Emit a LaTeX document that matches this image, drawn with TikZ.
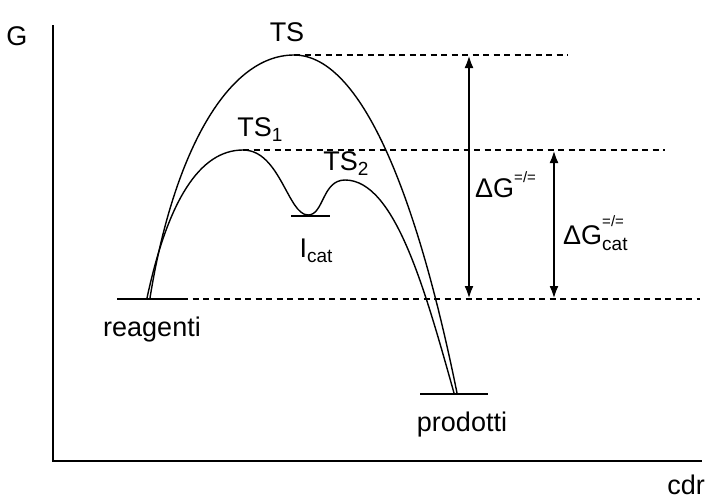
\documentclass[tikz,border=0pt]{standalone}
\usepackage{fontspec}
\setmainfont{Liberation Sans}
\usetikzlibrary{arrows.meta}
\begin{document}
\begin{tikzpicture}[x=1pt,y=-1pt,
  lbl/.style={font=\fontsize{27}{31}\selectfont, inner sep=0pt},
  axis/.style={line width=1.8pt},
  level/.style={line width=1.4pt},
  guide/.style={line width=1.2pt, dash pattern=on 6pt off 4.5pt},
  curve/.style={line width=1.4pt},
  dim/.style={line width=2.6pt, {Latex[length=13pt,width=9pt]}-{Latex[length=13pt,width=9pt]}}]
\useasboundingbox (0,0) rectangle (707,501);
% axes
\coordinate (orig) at (53,461);
\coordinate (ytop) at (53,25);
\coordinate (xend) at (702,461);
\draw[axis] (ytop) -- (orig) -- (xend);
\node[lbl] (G) at (17,36) {G};
\node[lbl] (cdr) at (686,485) {cdr};
% levels
\coordinate (rA) at (117,299);
\coordinate (rB) at (182,299);
\draw[level] (rA) -- (rB);
\coordinate (pA) at (420,394);
\coordinate (pB) at (488,394);
\draw[level] (pA) -- (pB);
\coordinate (iA) at (291,216);
\coordinate (iB) at (330,216);
\draw[level] (iA) -- (iB);
\node[lbl] (reag) at (152,330) {reagenti};
\node[lbl] (prod) at (462,425) {prodotti};
% dashed guides
\coordinate (g1B) at (700,299);
\draw[guide] (rB) -- (g1B);
\coordinate (tsP) at (294,55);
\coordinate (g2B) at (568,55);
\draw[guide] (tsP) -- (g2B);
\coordinate (ts1P) at (243,150);
\coordinate (g3B) at (665,150);
\draw[guide] (ts1P) -- (g3B);
% uncatalysed curve
\coordinate (s1) at (150,298);
\coordinate (e1) at (457,393);
\draw[curve] (s1) .. controls (172,160) and (225,55) .. (tsP)
  .. controls (365,55) and (420,210) .. (e1);
% catalysed curve
\coordinate (s2) at (147,298);
\coordinate (imin) at (308,215);
\coordinate (ts2P) at (345,180);
\coordinate (e2) at (454,393);
\draw[curve] (s2) .. controls (168,200) and (200,150) .. (ts1P)
  .. controls (280,150) and (288,215) .. (imin)
  .. controls (324,215) and (322,180) .. (ts2P)
  .. controls (395,180) and (425,290) .. (e2);
% labels
\node[lbl] (ts) at (287,32) {TS};
\node[lbl] (ts1) at (260,130) {TS\raisebox{-0.35ex}{\fontsize{19}{21}\selectfont 1}};
\node[lbl] (ts2) at (346,164) {TS\raisebox{-0.35ex}{\fontsize{19}{21}\selectfont 2}};
\node[lbl] (icat) at (316,251) {I\raisebox{-0.35ex}{\fontsize{19}{21}\selectfont cat}};
% energy arrows
\coordinate (a1t) at (469,55);
\coordinate (a1b) at (469,299);
\draw[dim] (a1t) -- (a1b);
\coordinate (a2t) at (554,150);
\coordinate (a2b) at (554,299);
\draw[dim] (a2t) -- (a2b);
\node[lbl, anchor=base west] (dg) at (475,197) {ΔG\raisebox{1.05ex}{\fontsize{15}{17}\selectfont =/=}};
\node[lbl, anchor=base west] (dgc) at (563,244) {ΔG\rlap{\raisebox{1.2ex}{\fontsize{15}{17}\selectfont =/=}}\raisebox{-0.45ex}{\fontsize{19}{21}\selectfont cat}};
\end{tikzpicture}
\end{document}
